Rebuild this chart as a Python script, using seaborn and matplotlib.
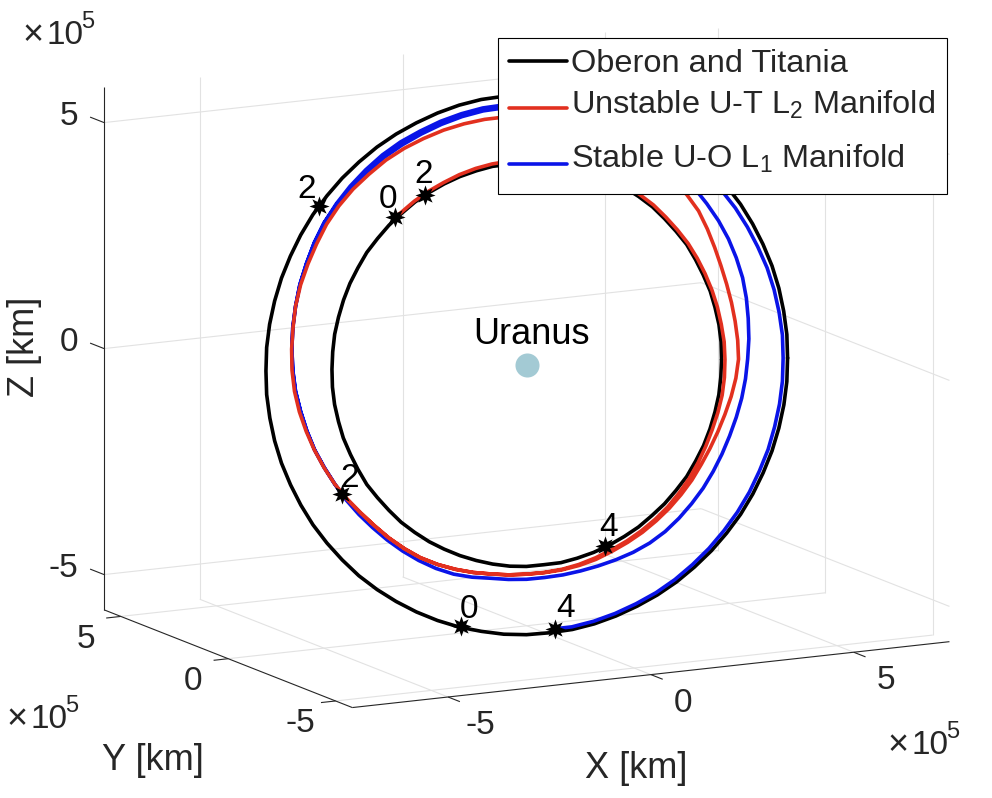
import numpy as np
import pandas as pd
import matplotlib
matplotlib.use('Agg')
import matplotlib.pyplot as plt
from matplotlib.colors import to_hex
import seaborn as sns

# all coordinates in units of 1e5 km, one row per 5 deg of orbit; second half mirrors the first through Uranus
oberon_half_x = [5.54, 5.57, 5.55, 5.49, 5.39, 5.24, 5.06, 4.84, 4.58, 4.29, 3.97, 3.61, 3.23, 2.82, 2.39, 1.94, 1.48, 1.01,
                 0.53, 0.04, -0.45, -0.93, -1.40, -1.87, -2.32, -2.75, -3.16, -3.55, -3.91, -4.24, -4.54, -4.80, -5.03, -5.22, -5.37, -5.48]
oberon_half_y = [-1.68, -1.59, -1.48, -1.37, -1.24, -1.10, -0.96, -0.81, -0.65, -0.49, -0.32, -0.15, 0.02, 0.19, 0.36, 0.52, 0.68, 0.84,
                 0.99, 1.13, 1.27, 1.39, 1.51, 1.61, 1.70, 1.78, 1.84, 1.89, 1.92, 1.95, 1.95, 1.94, 1.92, 1.88, 1.83, 1.76]
oberon_half_z = [-0.09, 0.41, 0.91, 1.40, 1.88, 2.35, 2.79, 3.22, 3.62, 3.99, 4.34, 4.65, 4.92, 5.16, 5.36, 5.52, 5.63, 5.71,
                 5.74, 5.72, 5.67, 5.57, 5.42, 5.23, 5.01, 4.75, 4.45, 4.12, 3.76, 3.37, 2.95, 2.51, 2.05, 1.57, 1.08, 0.59]

titania_half_x = [4.14, 4.16, 4.15, 4.10, 4.03, 3.91, 3.78, 3.62, 3.42, 3.20, 2.97, 2.70, 2.41, 2.11, 1.79, 1.45, 1.11, 0.75,
                  0.40, 0.03, -0.34, -0.69, -1.05, -1.40, -1.73, -2.05, -2.36, -2.65, -2.92, -3.17, -3.39, -3.59, -3.76, -3.90, -4.01, -4.09]
titania_half_y = [-1.25, -1.19, -1.11, -1.02, -0.93, -0.82, -0.72, -0.61, -0.49, -0.37, -0.24, -0.11, 0.01, 0.14, 0.27, 0.39, 0.51, 0.63,
                  0.74, 0.84, 0.95, 1.04, 1.13, 1.20, 1.27, 1.33, 1.37, 1.41, 1.43, 1.46, 1.46, 1.45, 1.43, 1.40, 1.37, 1.31]
titania_half_z = [-0.07, 0.31, 0.68, 1.05, 1.40, 1.76, 2.08, 2.41, 2.70, 2.98, 3.24, 3.47, 3.68, 3.85, 4.00, 4.12, 4.21, 4.27,
                  4.29, 4.27, 4.24, 4.16, 4.05, 3.91, 3.74, 3.55, 3.32, 3.08, 2.81, 2.52, 2.20, 1.88, 1.53, 1.17, 0.81, 0.44]

# manifolds: size relative to Oberon's orbit, read every 5 deg of phase
red_start = 130    # runs backwards
red_ratio = [.750, .751, .752, .753, .755, .756, .757, .758, .758, .758, .758, .758, .757, .757, .756, .755, .755, .754,
             .754, .755, .755, .755, .755, .756, .757, .759, .760, .760, .760, .758, .756, .757, .758, .760, .762, .764,
             .765, .765, .766, .767, .769, .771, .773, .775, .776, .780, .785, .792, .800, .808, .815, .818, .821, .825,
             .831, .840, .850, .858, .866, .875, .885, .893, .900, .904, .909, .917, .922, .926, .930, .936, .940, .941,
             .940, .940, .938, .935, .932, .928, .925, .923, .922, .919, .915, .910, .905, .898, .890, .883, .875, .868,
             .860, .845, .832, .822, .815, .812, .811, .811, .812, .804, .795, .786, .779, .775, .772, .772, .772, .772,
             .772, .772, .772, .773, .775, .775, .775, .776, .776, .780, .785, .792, .800, .808, .815, .818, .821, .825,
             .831, .840]
blue_start = -80   # runs forwards
blue_ratio = [.990, .990, .990, .990, .990, .989, .988, .987, .986, .985, .985, .984, .984, .983, .983, .983, .983, .983,
              .982, .981, .980, .978, .977, .976, .975, .973, .972, .971, .970, .969, .968, .967, .970, .969, .969, .968,
              .968, .967, .967, .966, .966, .964, .961, .957, .953, .947, .940, .932, .925, .917, .910, .903, .897, .889,
              .880, .872, .865, .857, .850, .845, .840, .835, .831, .829, .827, .824, .819, .810, .801, .797, .795, .794,
              .794, .796, .801, .808, .815, .821, .825, .825, .825, .825, .825, .826, .827, .831, .836, .841, .847, .854,
              .862, .871, .880, .887, .893, .897, .901, .906, .912, .921, .930, .938, .945, .950, .953, .955, .956, .957,
              .957, .956, .955, .954, .953, .952, .951, .951, .950, .947, .940, .932, .925, .917, .910, .903, .897, .889,
              .880, .872, .865, .857, .850]

# time stamps in days along the trajectories
stamp_label = ['0', '2', '4', '2', '0', '4', '2']
stamp_x = [-2.51, -1.83, 1.31, -4.09, -1.90, 0.08, -4.17]
stamp_y = [1.40, 1.29, -1.18, 1.94, -0.53, -1.15, 0.73]
stamp_z = [3.25, 3.69, -3.92, 3.55, -5.50, -5.64, -2.59]

labels = ['Oberon and Titania', 'Unstable U-T L$_2$ Manifold', 'Stable U-O L$_1$ Manifold']
colors = ['#000000', '#e2301f', '#0a14e8']
ticks = [-5, 0, 5]
xlim = (-7.36, 7.36)
ylim = (-5.78, 5.78)
zlim = (-5.78, 5.78)

AZ = np.radians(27.9)
EL = np.radians(11.95)


def project(x, y, z):
    x, y, z = np.asarray(x, float), np.asarray(y, float), np.asarray(z, float)
    h = x*np.cos(AZ) - y*np.sin(AZ)
    v = np.sin(EL)*(x*np.sin(AZ) + y*np.cos(AZ)) + np.cos(EL)*z
    return h, v


def full_orbit(half):
    half = np.array(half)
    return np.r_[half, -half, half[0]]


oberon_x, oberon_y, oberon_z = full_orbit(oberon_half_x), full_orbit(oberon_half_y), full_orbit(oberon_half_z)
titania_x, titania_y, titania_z = full_orbit(titania_half_x), full_orbit(titania_half_y), full_orbit(titania_half_z)


def manifold(start, step, ratio, first, last):
    r = np.array(ratio)
    idx = ((start + step*np.arange(len(r)))//5) % 72
    xs = np.r_[stamp_x[first], oberon_x[idx]*r, stamp_x[last]]
    ys = np.r_[stamp_y[first], oberon_y[idx]*r, stamp_y[last]]
    zs = np.r_[stamp_z[first], oberon_z[idx]*r, stamp_z[last]]
    return xs, ys, zs


curves = [
    ('oberon', labels[0], oberon_x, oberon_y, oberon_z),
    ('titania', labels[0], titania_x, titania_y, titania_z),
    ('red', labels[1], *manifold(red_start, -5, red_ratio, 0, 6)),
    ('blue', labels[2], *manifold(blue_start, 5, blue_ratio, 5, 6)),
]
frames = []
for name, lab, cx, cy, cz in curves:
    h, v = project(cx, cy, cz)
    frames.append(pd.DataFrame({'h': h, 'v': v, 'curve': name, 'family': lab}))
df = pd.concat(frames, ignore_index=True)

sns.set_theme(style='white')
plt.rcParams['font.family'] = ['Liberation Sans', 'DejaVu Sans']
plt.rcParams['mathtext.fontset'] = 'custom'
plt.rcParams['mathtext.rm'] = 'Liberation Sans'
plt.rcParams['mathtext.default'] = 'regular'

fig = plt.figure(figsize=(9.92, 7.98), dpi=100)
ax = fig.add_axes([0, 0, 1, 1])


def seg(p, q, color='#e2e2e2', lw=0.8, zorder=1):
    h, v = project([p[0], q[0]], [p[1], q[1]], [p[2], q[2]])
    ax.plot(h, v, color=color, lw=lw, zorder=zorder, solid_capstyle='butt')


# grid on the two back walls and the floor
x0, x1 = xlim
y0, y1 = ylim
z0, z1 = zlim
for t in ticks:
    seg((t, y1, z0), (t, y1, z1))
    seg((x1, t, z0), (x1, t, z1))
    seg((x0, y1, t), (x1, y1, t))
    seg((x1, y0, t), (x1, y1, t))
    seg((t, y0, z0), (t, y1, z0))
    seg((x0, t, z0), (x1, t, z0))

# box edges and tick marks
dark = '#262626'
seg((x0, y1, z0), (x0, y1, z1), dark, 0.8, 2)
seg((x0, y0, z0), (x1, y0, z0), dark, 0.8, 2)
seg((x0, y0, z0), (x0, y1, z0), dark, 0.8, 2)
for t in ticks:
    seg((t, y0, z0), (t, y0 - 0.55, z0), dark, 0.8, 2)
    seg((x0, t, z0), (x0 - 0.36, t, z0), dark, 0.8, 2)
    seg((x0, y1, t), (x0, y1 + 0.65, t), dark, 0.8, 2)

sns.lineplot(data=df, x='h', y='v', hue='family', hue_order=labels, palette=colors, units='curve',
             estimator=None, sort=False, lw=2.6, ax=ax, zorder=3)
# red goes over blue, legend keeps its order
for line in ax.get_lines():
    if to_hex(line.get_color()) == colors[1]:
        line.set_zorder(3.5)

# Uranus at the origin
uh, uv = project([0], [0], [0])
sns.scatterplot(x=uh, y=uv, color='#a3cad4', s=300, linewidth=0, ax=ax, zorder=4, legend=False)
ax.annotate('Uranus', (uh[0], uv[0]), xytext=(5, 30), textcoords='offset pixels', ha='center', va='center',
            fontsize=26, color='black', zorder=6)

sh, sv = project(stamp_x, stamp_y, stamp_z)
sns.scatterplot(x=sh, y=sv, color='black', marker=(8, 1, 0), s=210, linewidth=0, ax=ax, zorder=5, legend=False)
stamp_offsets = [(-7, 18), (-1, 21), (3, 18), (-13, 16), (8, 17), (11, 20), (8, 16)]
for lab, a, b, off in zip(stamp_label, sh, sv, stamp_offsets):
    ax.annotate(lab, (a, b), xytext=off, textcoords='offset pixels', ha='center', va='center',
                fontsize=24, color='black', zorder=6)

ax.set_xlim(-526.75/45.9, (992 - 526.75)/45.9)
ax.set_ylim(-(798 - 364.5)/46.2, 364.5/46.2)
ax.axis('off')

# tick labels
for t in ticks:
    h, v = project(t, y0 - 1.5, z0 - 0.35)
    ax.text(h, v, str(t), ha='center', va='center', fontsize=24, color=dark)
    h, v = project(x0 - 0.86, t, z0 - 0.42)
    ax.text(h, v, str(t), ha='center', va='center', fontsize=24, color=dark)
    h, v = project(x0, y1 + 1.19, t - 0.09)
    ax.text(h, v, str(t), ha='right', va='center', fontsize=24, color=dark)


def ftext(px, py, s, size=23, **kw):
    fig.text(px/992, 1 - py/798, s, fontsize=size, color=dark, ha='center', va='center', **kw)


ftext(636, 768, 'X [km]', 26)
ftext(153, 760, 'Y [km]', 26)
ftext(24, 347, 'Z [km]', 26, rotation=90)
for mx, my in [(33, 36), (17, 720), (898, 746)]:
    ftext(mx, my, '\u00d7', 26)
    ftext(mx + 32, my - 1, '10', 24)
    ftext(mx + 55, my - 14, '5', 17)

sns.move_legend(ax, 'upper left', bbox_to_anchor=(498/992, 1 - 38/798), title=None, frameon=True, fancybox=False,
                framealpha=1, edgecolor='black', fontsize=23.4, handlelength=1.78, handletextpad=0.12,
                borderaxespad=0, borderpad=0.35, labelspacing=0.6)
leg = ax.get_legend()
leg.get_frame().set_linewidth(0.8)
leg.set_zorder(10)
# the subscript rows sit lower on their lines than the text does
for row_text, dy in zip(leg.get_texts(), [0, 10, 8]):
    row_text.set_y(dy)
for row_line, dy in zip(leg.get_lines(), [0, 3, 0]):
    row_line.set_ydata(np.asarray(row_line.get_ydata()) + dy)

fig.savefig('out.png', dpi=100)
